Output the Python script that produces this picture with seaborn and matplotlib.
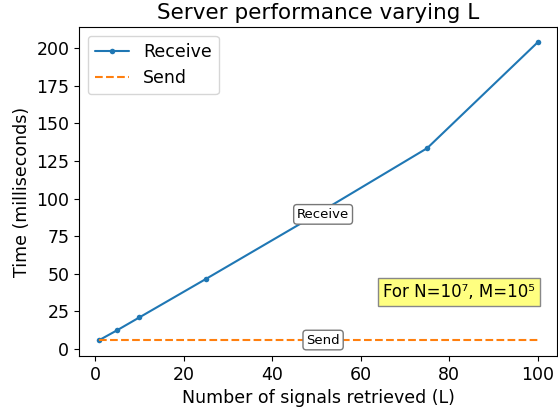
import numpy as np
import pandas as pd
import matplotlib
matplotlib.use('Agg')
import matplotlib.pyplot as plt
import seaborn as sns

# values
L_values = [1, 5, 10, 25, 50, 75, 100]
receive_ms = [6.0, 12.5, 21.0, 46.5, 89.5, 133.5, 204.0]
send_ms = [6.0, 6.0, 6.0, 6.0, 6.0, 6.0, 6.0]

sns.set_style("ticks")
plt.rcParams['font.family'] = ['DejaVu Sans']
plt.rcParams['font.size'] = 12.5
for key in ['text.color', 'axes.labelcolor', 'xtick.color', 'ytick.color', 'axes.edgecolor']:
    plt.rcParams[key] = 'black'

df = pd.DataFrame({'L': L_values, 'Receive': receive_ms, 'Send': send_ms})

fig, ax = plt.subplots(figsize=(5.58, 4.09), dpi=100)
fig.subplots_adjust(left=79/558, right=557/558, bottom=1-356/409, top=1-27/409)

sns.lineplot(data=df, x='L', y='Receive', ax=ax, color='#1f77b4', marker='o',
             markersize=4, markeredgewidth=0, label='Receive')
sns.lineplot(data=df, x='L', y='Send', ax=ax, color='#ff7f0e', linestyle='--',
             label='Send')

# inline line labels
box = dict(boxstyle='round,pad=0.25', facecolor='white', edgecolor='#777777')
ax.text(51.5, receive_ms[4], 'Receive', ha='center', va='center',
        fontsize=9.5, bbox=box)
ax.text(51.5, send_ms[4], 'Send', ha='center', va='center',
        fontsize=9.5, bbox=box)

ax.text(82.2, 38, 'For N=10⁷, M=10⁵', ha='center', va='center', fontsize=12,
        bbox=dict(boxstyle='square,pad=0.3', facecolor='#ffff80', edgecolor='#888888'))

ax.set_title('Server performance varying L', fontsize=15.5)
ax.set_xlabel('Number of signals retrieved (L)')
ax.set_ylabel('Time (milliseconds)')
ax.set_xticks([0, 20, 40, 60, 80, 100])
ax.set_yticks(np.arange(0, 201, 25))
ax.set_xlim(-3.6, 104.3)
ax.set_ylim(-4.6, 214)
sns.despine(top=False, right=False)
ax.legend(loc='upper left', fontsize=12.5)

plt.savefig('out.png', dpi=100)
